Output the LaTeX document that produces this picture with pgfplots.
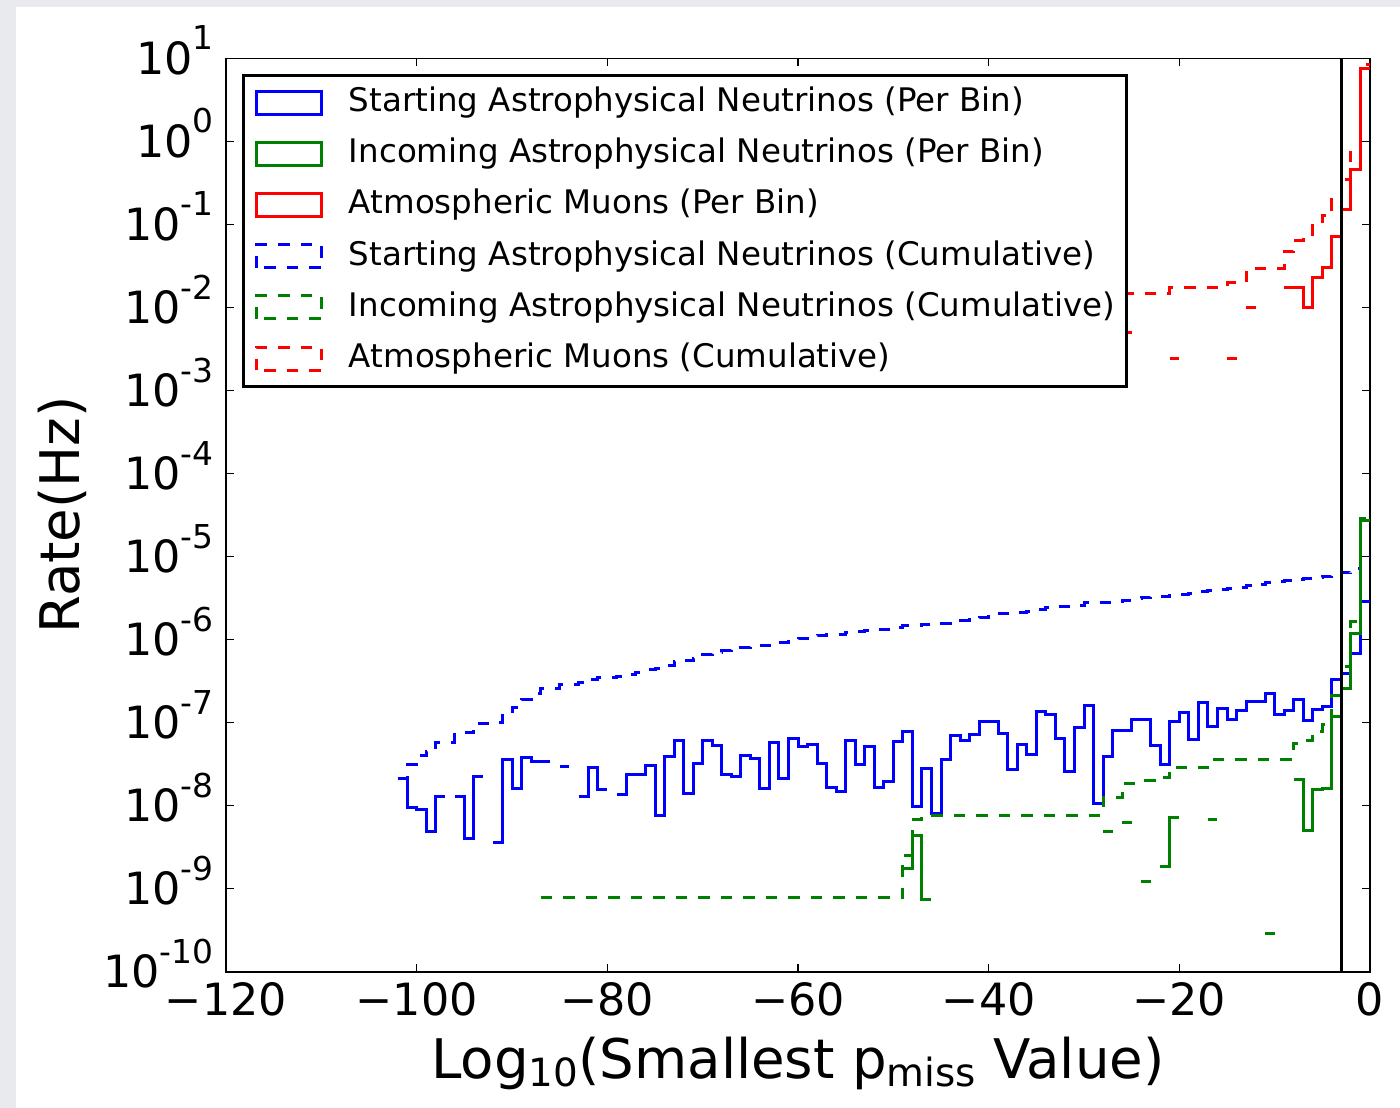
\documentclass[border=0pt]{standalone}
\usepackage{fontspec}
\setmainfont{DejaVu Sans}
\usepackage{pgfplots}
\pgfplotsset{compat=1.18}
\definecolor{bgray}{RGB}{232,234,237}
\definecolor{mgreen}{RGB}{0,128,0}
\newcommand\ten[1]{10\raisebox{12.3bp}{\fontsize{16.5}{16.5}\selectfont #1}}
\newcommand\sub[1]{\raisebox{-4.3bp}{\fontsize{19.5}{19.5}\selectfont #1}}
\pgfplotsset{
  pb/.style={line width=1.5bp, const plot, no marks},
  cu/.style={line width=1.5bp, const plot, no marks, dash pattern=on 5.75bp off 5.5bp},
}
\begin{document}
\begin{tikzpicture}
\path[use as bounding box, fill=bgray] (-113bp,-68.15bp) rectangle (587bp,485.85bp);
\fill[white] (-105bp,-68.15bp) rectangle (587bp,482.35bp);
\begin{axis}[
  at={(0,0)}, anchor=south west, scale only axis,
  width=572bp, height=456.7bp,
  xmin=-120, xmax=0, ymin=1e-10, ymax=10,
  ymode=log, log basis y=10,
  unbounded coords=jump,
  xtick={-120,-100,-80,-60,-40,-20,0},
  xticklabels={−120,−100,−80,−60,−40,−20,0},
  ytick={1e-10,1e-9,1e-8,1e-7,1e-6,1e-5,1e-4,1e-3,1e-2,1e-1,1,10},
  yticklabels={\ten{-10},\ten{-9},\ten{-8},\ten{-7},\ten{-6},\ten{-5},\ten{-4},\ten{-3},\ten{-2},\ten{-1},\ten{0},\ten{1}},
  yminorticks=false, xminorticks=false,
  tick label style={font=\fontsize{22.3}{22.3}\selectfont},
  xticklabel style={anchor=north, inner sep=0pt, yshift=-5bp},
  yticklabel style={anchor=base east, inner sep=0pt, xshift=-6bp, yshift=-8.1bp},
  major tick length=4bp,
  every tick/.style={black, line width=0.6bp},
  axis line style={black, line width=0.8bp},
  xlabel={Log\sub{10}(Smallest p\sub{miss} Value)},
  ylabel={Rate(Hz)},
  label style={font=\fontsize{27.4}{27.4}\selectfont},
  xlabel style={at={(axis description cs:0.5,-0.1165)}, anchor=base},
  ylabel style={at={(axis description cs:-0.1285,0.5)}, anchor=base},
  legend cell align=left,
  legend image code/.code={\draw[#1] (0bp,-5.75bp) rectangle (32.75bp,5.75bp); \path (45.5bp,0bp);},
  legend style={at={(rel axis cs:0.01442,0.98336)}, anchor=north west,
    draw=black, line width=1.5bp, fill=white,
    font=\fontsize{16.3}{19}\selectfont,
    inner xsep=5.5bp, inner ysep=6.3bp, row sep=10.7bp,
    nodes={inner sep=0pt, text height=11.9bp, text depth=3bp}},
]
% blue per bin
\addplot[pb, blue] table {
x y
-102 2.14e-8
-101 9.5e-9
-100 9.0e-9
-99 4.9e-9
-98 1.29e-8
-97 1.29e-8
-97 nan
-96 1.29e-8
-95 3.98e-9
-94 2.24e-8
-93 2.24e-8
-93 nan
-92 3.63e-9
-91 3.55e-8
-90 1.62e-8
-89 3.80e-8
-88 3.39e-8
-86 3.39e-8
-86 nan
-85 2.95e-8
-84 2.95e-8
-84 nan
-83 1.29e-8
-82 2.88e-8
-81 1.55e-8
-80 1.55e-8
-80 nan
-79 1.38e-8
-78 2.34e-8
-76 3.02e-8
-75 7.6e-9
-74 3.89e-8
-73 6.17e-8
-72 1.41e-8
-71 3.24e-8
-70 6.17e-8
-69 5.37e-8
-68 2.40e-8
-67 2.24e-8
-66 3.98e-8
-65 3.72e-8
-64 1.62e-8
-63 5.75e-8
-62 2.14e-8
-61 6.46e-8
-60 5.13e-8
-59 5.50e-8
-58 3.24e-8
-57 1.66e-8
-56 1.48e-8
-55 6.17e-8
-54 3.09e-8
-53 5.13e-8
-52 1.66e-8
-51 1.95e-8
-50 5.89e-8
-49 7.76e-8
-48 9.8e-9
-47 2.82e-8
-46 8.1e-9
-45 3.55e-8
-44 6.92e-8
-43 6.03e-8
-42 7.24e-8
-41 1.02e-7
-39 7.41e-8
-38 2.69e-8
-37 5.50e-8
-36 4.17e-8
-35 1.35e-7
-34 1.26e-7
-33 6.46e-8
-32 2.57e-8
-31 8.71e-8
-30 1.62e-7
-29 1.07e-8
-28 3.89e-8
-27 8.13e-8
-25 1.10e-7
-23 5.25e-8
-22 3.09e-8
-21 1.02e-7
-20 1.32e-7
-19 6.31e-8
-18 1.74e-7
-17 8.91e-8
-16 1.48e-7
-15 1.10e-7
-14 1.41e-7
-13 1.78e-7
-11 2.24e-7
-10 1.26e-7
-9 1.38e-7
-8 1.91e-7
-7 1.05e-7
-6 1.45e-7
-5 1.58e-7
-4 3.31e-7
-3 3.89e-7
-2 6.76e-7
-1 2.88e-6
0 2.88e-6
};
% green per bin
\addplot[pb, mgreen] table {
x y
-87 7.9e-10
-86 7.9e-10
-86 nan
-49 1.74e-9
-48 4.37e-9
-47 7.4e-10
-46 7.4e-10
-46 nan
-28 4.9e-9
-27 4.9e-9
-27 nan
-26 6.2e-9
-25 6.2e-9
-25 nan
-24 1.23e-9
-23 1.23e-9
-23 nan
-22 1.86e-9
-21 7.2e-9
-20 7.2e-9
-20 nan
-17 6.9e-9
-16 6.9e-9
-16 nan
-11 2.9e-10
-10 2.9e-10
-10 nan
-8 2.04e-8
-7 5.0e-9
-6 1.58e-8
-5 1.62e-8
-4 1.20e-7
-3 2.57e-7
-2 1.17e-6
-1 2.69e-5
0 2.69e-5
};
% red per bin
\addplot[pb, red] table {
x y
-26 5.0e-3
-25 5.0e-3
-25 nan
-21 2.45e-3
-20 2.45e-3
-20 nan
-15 2.45e-3
-14 2.45e-3
-14 nan
-13 1.0e-2
-12 1.0e-2
-12 nan
-9 1.74e-2
-7 1.0e-2
-6 2.29e-2
-5 3.02e-2
-4 7.24e-2
-3 0.151
-2 0.457
-1 7.59
0 7.59
};
% blue cumulative
\addplot[cu, blue] table {
x y
-102 2.14e-8
-101 3.09e-8
-100 4.05e-8
-99 4.54e-8
-98 5.83e-8
-96 7.12e-8
-95 7.52e-8
-94 9.76e-8
-92 1.01e-7
-91 1.37e-7
-90 1.53e-7
-89 1.91e-7
-88 2.25e-7
-87 2.59e-7
-85 2.88e-7
-83 3.01e-7
-82 3.30e-7
-81 3.45e-7
-79 3.59e-7
-78 3.83e-7
-77 4.06e-7
-76 4.36e-7
-75 4.44e-7
-74 4.83e-7
-73 5.44e-7
-72 5.59e-7
-71 5.91e-7
-70 6.53e-7
-69 7.06e-7
-68 7.30e-7
-67 7.53e-7
-66 7.93e-7
-65 8.30e-7
-64 8.46e-7
-63 9.04e-7
-62 9.25e-7
-61 9.90e-7
-60 1.04e-6
-59 1.10e-6
-58 1.13e-6
-57 1.15e-6
-56 1.16e-6
-55 1.22e-6
-54 1.25e-6
-53 1.30e-6
-52 1.32e-6
-51 1.34e-6
-50 1.40e-6
-49 1.48e-6
-48 1.49e-6
-47 1.52e-6
-46 1.53e-6
-45 1.56e-6
-44 1.63e-6
-43 1.69e-6
-42 1.76e-6
-41 1.86e-6
-40 1.97e-6
-39 2.04e-6
-38 2.07e-6
-37 2.12e-6
-36 2.16e-6
-35 2.30e-6
-34 2.42e-6
-33 2.49e-6
-32 2.52e-6
-31 2.60e-6
-30 2.77e-6
-29 2.78e-6
-28 2.82e-6
-27 2.90e-6
-26 2.98e-6
-25 3.09e-6
-24 3.20e-6
-23 3.25e-6
-22 3.28e-6
-21 3.39e-6
-20 3.52e-6
-19 3.58e-6
-18 3.76e-6
-17 3.85e-6
-16 3.99e-6
-15 4.10e-6
-14 4.25e-6
-13 4.42e-6
-12 4.60e-6
-11 4.83e-6
-10 4.95e-6
-9 5.09e-6
-8 5.28e-6
-7 5.38e-6
-6 5.53e-6
-5 5.69e-6
-4 6.02e-6
-3 6.41e-6
-2 7.09e-6
-1 9.97e-6
0 9.97e-6
};
% green cumulative
\addplot[cu, mgreen] table {
x y
-87 7.9e-10
-49 2.53e-9
-48 6.9e-9
-47 7.64e-9
-28 1.25e-8
-26 1.87e-8
-24 1.99e-8
-22 2.18e-8
-21 2.90e-8
-17 3.59e-8
-11 3.62e-8
-8 5.66e-8
-7 6.16e-8
-6 7.74e-8
-5 9.36e-8
-4 2.14e-7
-3 4.71e-7
-2 1.64e-6
-1 2.85e-5
0 2.85e-5
};
% red cumulative
\addplot[cu, red] table {
x y
-26 1.48e-2
-21 1.72e-2
-15 1.97e-2
-13 2.97e-2
-9 4.71e-2
-8 6.45e-2
-7 7.45e-2
-6 9.74e-2
-5 0.128
-4 0.200
-3 0.351
-2 0.808
-1 8.40
0 8.40
};
\addplot[black, line width=1.5bp, no marks, forget plot] coordinates {(-3,1e-10) (-3,10)};
\legend{Starting Astrophysical Neutrinos (Per Bin),
Incoming Astrophysical Neutrinos (Per Bin),
Atmospheric Muons (Per Bin),
Starting Astrophysical Neutrinos (Cumulative),
Incoming Astrophysical Neutrinos (Cumulative),
Atmospheric Muons (Cumulative)}
\end{axis}
\end{tikzpicture}
\end{document}
